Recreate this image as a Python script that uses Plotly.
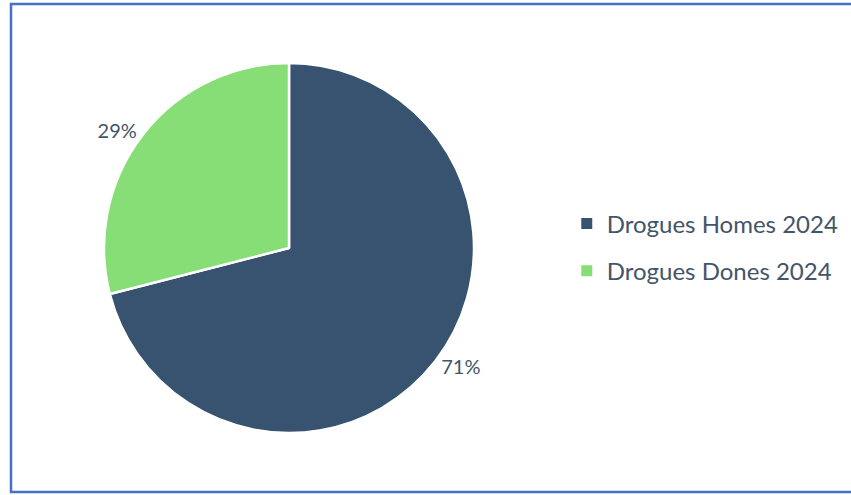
import plotly.graph_objects as go

labels = ["Drogues Homes 2024", "Drogues Dones 2024"]
values = [71, 29]
colors = ["#375370", "#88DE76"]

W, H = 851, 495
text_color = "#44546A"
font_family = "Lato, 'Open Sans', sans-serif"

fig = go.Figure()
fig.add_trace(go.Pie(
    labels=labels,
    values=values,
    sort=False,
    direction="clockwise",
    rotation=0,
    marker=dict(colors=colors, line=dict(color="white", width=2.5)),
    textposition="outside",
    texttemplate="%{percent:.0%}",
    textfont=dict(size=20, color=text_color, family=font_family),
    showlegend=False,
    domain=dict(x=[104 / W, 474 / W], y=[1 - 433 / H, 1 - 63 / H]),
    hoverinfo="label+percent",
))

# legend entries
for lab, col in zip(labels, colors):
    fig.add_trace(go.Scatter(
        x=[None], y=[None], mode="markers", name=lab,
        marker=dict(symbol="square", size=11, color=col),
        legendgroup=lab, showlegend=True,
    ))

fig.update_layout(
    width=W, height=H,
    margin=dict(l=0, r=0, t=0, b=0),
    paper_bgcolor="white",
    plot_bgcolor="white",
    xaxis=dict(visible=False),
    yaxis=dict(visible=False),
    legend=dict(
        x=0.666, y=0.5, xanchor="left", yanchor="middle",
        font=dict(size=24, color=text_color, family=font_family),
        tracegroupgap=13,
        itemwidth=30,
    ),
    shapes=[dict(
        type="rect", xref="paper", yref="paper",
        x0=11 / W, x1=1.02, y0=1 - 492 / H, y1=1 - 4 / H,
        line=dict(color="#4472C4", width=2.5),
    )],
)

fig.write_html("out.html", config={"displayModeBar": False},
               post_script="document.body.style.margin='0';")
